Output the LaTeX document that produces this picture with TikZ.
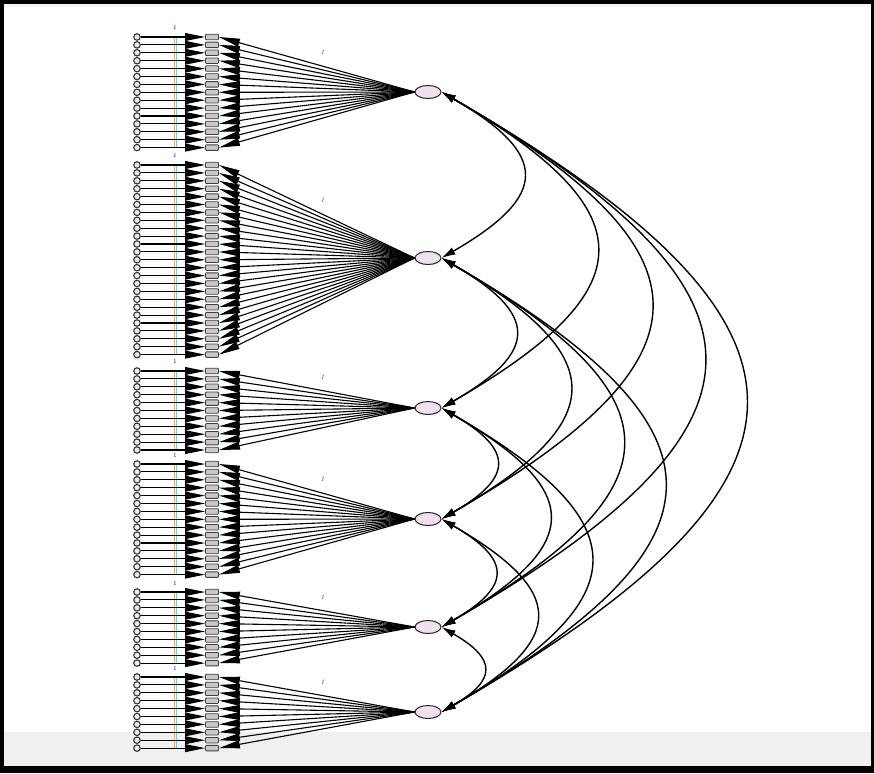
\documentclass[tikz,border=0pt]{standalone}
\usetikzlibrary{arrows.meta,shapes.geometric}
\begin{document}
\begin{tikzpicture}[x=1pt,y=-1pt,
  err/.style={circle,draw=black!80,fill=gray!15,line width=1.1pt,minimum size=6.5pt,inner sep=0pt},
  obs/.style={rectangle,rounded corners=0.8pt,draw=black!75,fill=violet!12!gray!40,line width=0.8pt,minimum width=13pt,minimum height=5.5pt,inner sep=0pt},
  lat/.style={ellipse,draw=black!85,fill=violet!12,line width=1pt,minimum width=26pt,minimum height=13pt,inner sep=0pt},
  earrow/.style={draw=black,line width=1.1pt,-{Triangle[length=20pt,width=7.8pt]}},
  larrow/.style={draw=black,line width=1.1pt,-{Triangle[length=21pt,width=7.8pt]}},
  cov/.style={draw=black,line width=1.4pt,{Latex[length=14pt,width=8pt]}-{Latex[length=14pt,width=8pt]}},
  onelab/.style={font=\fontsize{6}{6}\selectfont,text=blue!50!black,inner sep=0pt}
]
\useasboundingbox (0,0) rectangle (874,773);
\fill[black] (0,0) rectangle (874,773);
\fill[white] (4,4) rectangle (871,766);
\fill[gray!12] (4,732) rectangle (871,766);
\fill[gray!8] (4,4) rectangle (871,7);

\foreach \g/\top/\n/\fy in {1/37/15/92, 2/165/25/258, 3/371/11/408, 4/464/15/519, 5/592/10/627, 6/677/10/712} {
  \node[lat] (F\g) at (428,\fy) {};
  \pgfmathsetmacro\bot{\top+(\n-1)*7.9}
  \draw[orange!70,line width=0.7pt] (174.2,\top) -- (174.2,\bot);
  \draw[cyan!60,line width=1pt] (176,\top) -- (176,\bot);
  \node[onelab] (one\g) at (175,\top-9) {1};
  \foreach \i in {1,...,\n} {
    \pgfmathsetmacro\yy{\top+(\i-1)*7.9}
    \node[err] (e\g-\i) at (137,\yy) {};
    \node[obs] (v\g-\i) at (212,\yy) {};
    \draw[earrow] (e\g-\i) -- (v\g-\i);
  }
  \foreach \i in {1,...,\n} {
    \draw[larrow] (F\g.west) -- (v\g-\i.east);
  }
  \path (F\g.west) -- (v\g-1.east) node[pos=0.47,above=8pt,font=\fontsize{7}{7}\selectfont\itshape,text=black!75] (w\g) {1};
}

\foreach \a/\b in {1/2,1/3,1/4,1/5,1/6,2/3,2/4,2/5,2/6,3/4,3/5,3/6,4/5,4/6,5/6} {
  \draw[cov] (F\a.east) to[out=-30,in=30,looseness=1.93] (F\b.east);
}
\end{tikzpicture}
\end{document}
